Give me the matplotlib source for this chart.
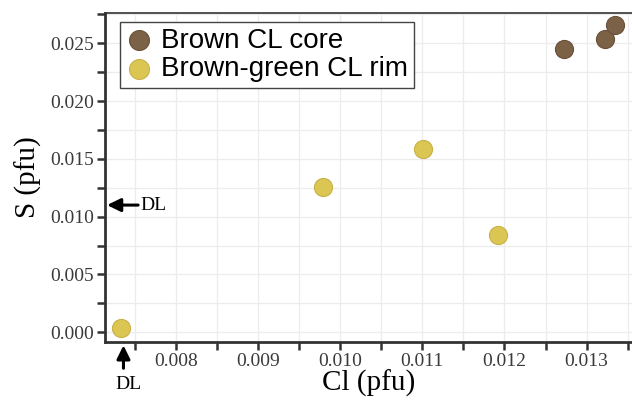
import matplotlib
matplotlib.use("Agg")
import matplotlib.pyplot as plt
from matplotlib.ticker import MultipleLocator, FormatStrFormatter

# Cl and S (pfu) per group
core_cl = [0.01272, 0.01322, 0.01334]
core_s = [0.02448, 0.02535, 0.02658]
rim_cl = [0.00733, 0.00979, 0.01101, 0.01192]
rim_s = [0.00040, 0.01260, 0.01583, 0.00842]

core_label = "Brown CL core"
rim_label = "Brown-green CL rim"
dl_cl = 0.00736
dl_s = 0.0110

serif = "Liberation Serif"
sans = "Liberation Sans"

fig = plt.figure(figsize=(6.32, 4.01), dpi=100)
ax = fig.add_axes([0.166, 0.148, 0.834, 0.819])

ax.scatter(core_cl, core_s, s=170, color="#7b6146", edgecolors="#6a5038",
           linewidths=0.8, label=core_label, zorder=3)
ax.scatter(rim_cl, rim_s, s=170, color="#dcc653", edgecolors="#c9b146",
           linewidths=0.8, label=rim_label, zorder=3)

ax.set_xlim(0.007134, 0.013553)
ax.set_ylim(-0.000813, 0.027595)
ax.xaxis.set_major_locator(MultipleLocator(0.001))
ax.xaxis.set_minor_locator(MultipleLocator(0.0005))
ax.yaxis.set_major_locator(MultipleLocator(0.005))
ax.yaxis.set_minor_locator(MultipleLocator(0.0025))
ax.xaxis.set_major_formatter(FormatStrFormatter("%.3f"))
ax.yaxis.set_major_formatter(FormatStrFormatter("%.3f"))

ax.grid(True, which="both", color="#ececec", linewidth=0.9, zorder=0)
ax.set_axisbelow(True)

ax.tick_params(which="both", direction="out", length=6, width=1.8,
               color="#333333", labelcolor="#3a3a3a", labelsize=14, pad=2)
for lab in ax.get_xticklabels() + ax.get_yticklabels():
    lab.set_fontfamily(serif)

ax.spines["right"].set_visible(False)
ax.spines["top"].set_linewidth(1.2)
ax.spines["left"].set_linewidth(2.0)
ax.spines["bottom"].set_linewidth(2.0)
for sp in ax.spines.values():
    sp.set_color("#333333")

ax.set_xlabel("Cl (pfu)", fontfamily=serif, fontsize=21, labelpad=0)
ax.set_ylabel("S (pfu)", fontfamily=serif, fontsize=21, labelpad=6)

leg = ax.legend(loc="upper left", bbox_to_anchor=(0.028, 0.973),
                prop={"family": sans, "size": 20}, fancybox=False,
                framealpha=1, edgecolor="#444444", handletextpad=0.3,
                borderpad=0.2, labelspacing=0.1, handlelength=1.0,
                borderaxespad=0, markerscale=1.1)
leg.get_frame().set_linewidth(1.0)

# detection limit arrows
arrow = dict(arrowstyle="-|>,head_length=0.45,head_width=0.22", color="black",
             lw=2.2, mutation_scale=18, shrinkA=0, shrinkB=0)
ax.annotate("", xy=(0.004, dl_s), xycoords=("axes fraction", "data"),
            xytext=(0.063, dl_s), textcoords=("axes fraction", "data"),
            arrowprops=arrow)
ax.text(0.068, dl_s, "DL", transform=ax.get_yaxis_transform(),
        fontfamily=serif, fontsize=14, va="center", ha="left")
ax.annotate("", xy=(dl_cl, -0.011), xycoords=("data", "axes fraction"),
            xytext=(dl_cl, -0.081), textcoords=("data", "axes fraction"),
            arrowprops=arrow, annotation_clip=False)
ax.text(dl_cl + 0.00006, -0.13, "DL", transform=ax.get_xaxis_transform(),
        fontfamily=serif, fontsize=14, va="center", ha="center")

fig.savefig("out.png", dpi=100)
